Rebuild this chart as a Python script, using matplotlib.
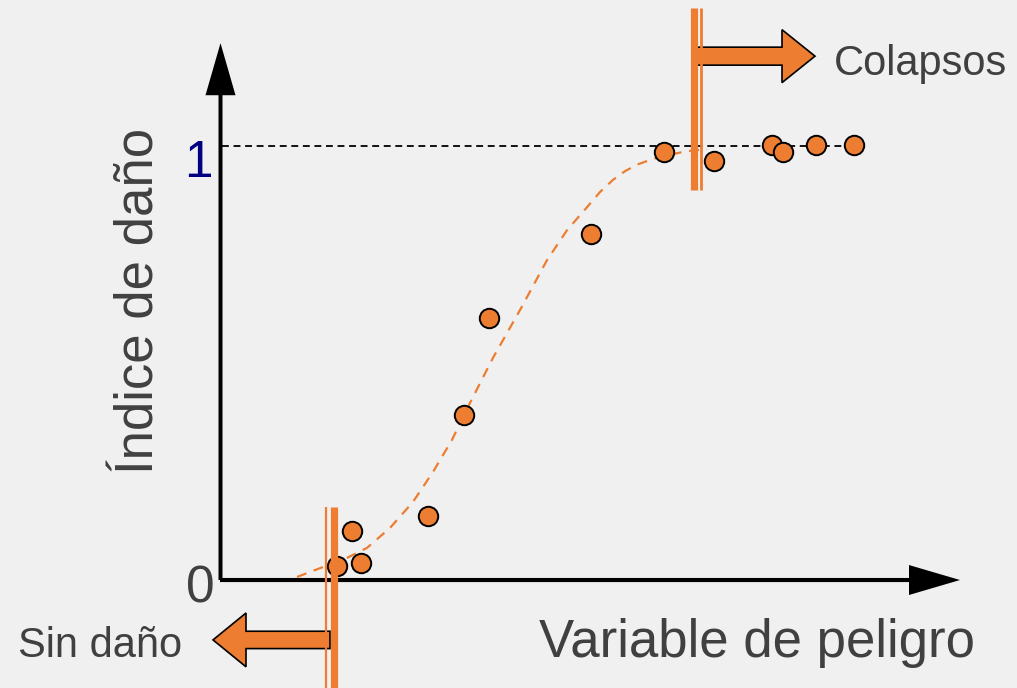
import matplotlib
matplotlib.use("Agg")
import matplotlib.pyplot as plt
from matplotlib.patches import FancyArrow

# ---------------- data ----------------
hazard = [1.15, 1.30, 1.39, 2.06, 2.42, 2.67, 3.69, 4.42, 4.92, 5.50, 5.61, 5.94, 6.32]
damage = [0.032, 0.113, 0.039, 0.147, 0.380, 0.604, 0.797, 0.986, 0.965, 1.002, 0.986, 1.002, 1.002]

curve_x = [0.75, 1.25, 1.45, 1.68, 1.91, 2.11, 2.30, 2.48, 2.71, 2.98, 3.25, 3.45, 3.65, 3.78, 3.91, 4.03, 4.15, 4.27, 4.38, 4.52, 4.65, 4.85]
curve_y = [0.007, 0.051, 0.074, 0.120, 0.180, 0.249, 0.323, 0.408, 0.512, 0.622, 0.737, 0.806, 0.859, 0.894, 0.922, 0.942, 0.957, 0.967, 0.975, 0.982, 0.988, 0.993]

threshold_low = 1.115    # "Sin daño"
threshold_high = 4.715   # "Colapsos"
ref_line_end = 6.42

y_tick_labels = ["0", "1"]
xlabel = "Variable de peligro"
ylabel = "Índice de daño"
low_label = "Sin daño"
high_label = "Colapsos"

ORANGE = "#ED7D31"
TEXT = "#404040"
BG = "#f0f0f0"

plt.rcParams['font.family'] = ['Liberation Sans', 'DejaVu Sans']

fig = plt.figure(figsize=(10.17, 6.88), dpi=100, facecolor=BG)
ax = fig.add_axes([0, 0, 1, 1])
ax.set_facecolor(BG)
ax.set_xlim(-2.22, 7.95)
ax.set_ylim(-0.2488, 1.3364)
ax.axis("off")

# reference line at y = 1
ax.plot([0, ref_line_end], [1, 1], color="black", lw=1.3, dashes=(3.8, 2.6), zorder=2)

# fitted curve
ax.plot(curve_x, curve_y, color=ORANGE, lw=1.6, dashes=(4.5, 3.5), zorder=2)

# axes with arrows
ax.add_patch(FancyArrow(-0.015, 0, 0, 1.237, width=0.04, head_width=0.30,
                        head_length=0.12, length_includes_head=True,
                        color="black", lw=0, zorder=3))
ax.add_patch(FancyArrow(-0.02, 0, 7.40, 0, width=0.0095, head_width=0.069,
                        head_length=0.51, length_includes_head=True,
                        color="black", lw=0, zorder=3))

# data points
ax.plot(hazard, damage, "o", ms=14, mfc=ORANGE, mec="black", mew=1.4, zorder=5)

# threshold lines (double lines)
ax.plot([threshold_low - 0.075, threshold_low - 0.075], [-0.26, 0.168], color=ORANGE, lw=1.6, zorder=6, solid_capstyle="butt")
ax.plot([threshold_high + 0.07, threshold_high + 0.07], [0.899, 1.318], color=ORANGE, lw=2.0, zorder=6, solid_capstyle="butt")

# block arrows
ax.add_patch(FancyArrow(threshold_high + 0.035, 1.207, 1.18, 0, width=0.0415, head_width=0.122,
                        head_length=0.33, length_includes_head=True,
                        fc=ORANGE, ec="black", lw=1.2, zorder=4))
ax.add_patch(FancyArrow(threshold_low - 0.035, -0.138, -1.17, 0, width=0.040, head_width=0.124,
                        head_length=0.33, length_includes_head=True,
                        fc=ORANGE, ec="black", lw=1.2, zorder=4))
ax.plot([threshold_low, threshold_low], [-0.26, 0.168], color=ORANGE, lw=5.2, zorder=7, solid_capstyle="butt")
ax.plot([threshold_high, threshold_high], [0.899, 1.318], color=ORANGE, lw=5.2, zorder=7, solid_capstyle="butt")

# tick labels
ax.text(-0.24, 0.9286, y_tick_labels[1], color="#000080", fontsize=37, ha="center", va="baseline")
ax.text(-0.22, -0.0507, y_tick_labels[0], color=TEXT, fontsize=37, ha="center", va="baseline")

# labels
ax.text(5.35, -0.1774, xlabel, color=TEXT, fontsize=38, ha="center", va="baseline")
ax.text(-0.69, 0.643, ylabel, color=TEXT, fontsize=38, ha="center", va="baseline",
        rotation=90, rotation_mode="anchor")
ax.text(6.12, 1.1636, high_label, color=TEXT, fontsize=30, ha="left", va="baseline")
ax.text(-2.04, -0.1774, low_label, color=TEXT, fontsize=30, ha="left", va="baseline")

fig.savefig("out.png", dpi=100, facecolor=BG)
